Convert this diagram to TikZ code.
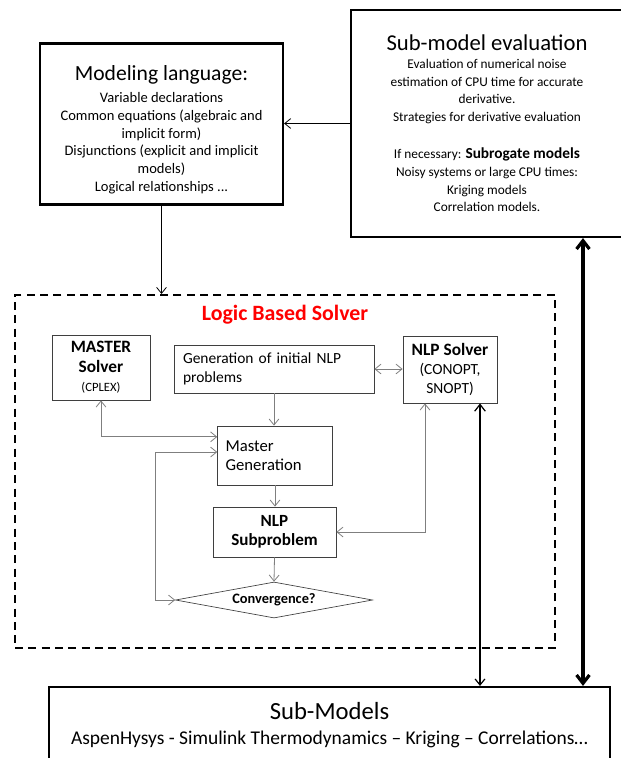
\documentclass[tikz,border=0pt]{standalone}
\usepackage{fontspec}
\setmainfont{Carlito}
\usepackage{xcolor}
\definecolor{cLine}{HTML}{7F7F7F}
\definecolor{cBox}{HTML}{3F3F3F}
\definecolor{cRed}{HTML}{FF0000}
\usetikzlibrary{positioning,arrows.meta,shapes.geometric,calc}
\tikzset{
  box-size/.style 2 args={minimum width=#1*0.75pt,minimum height=#2*0.75pt},
  big-box/.style={draw=black,line width=1.6pt,align=center,inner sep=0pt},
  node-box/.style={draw=cBox,line width=0.6pt,align=center,inner sep=0pt,
    font=\fontsize{12.5}{14.5}\selectfont},
  node-dec/.style={draw=cBox,line width=0.5pt,diamond,aspect=5.5,inner sep=0pt,
    font=\fontsize{10.8}{12}\selectfont\bfseries},
  frame-dash/.style={draw=black,line width=1.5pt,dash pattern=on 6pt off 4pt},
  arrow/.style={-{Straight Barb[length=1.6mm,width=2.6mm]},line width=0.6pt,draw=black},
  arrow-gray/.style={{Straight Barb[length=1.6mm,width=2.6mm]}-{Straight Barb[length=1.6mm,width=2.6mm]},
    line width=0.6pt,draw=cLine},
  arrow-gray-end/.style={-{Straight Barb[length=1.6mm,width=2.6mm]},line width=0.6pt,draw=cLine},
  arrow-dark/.style={{Straight Barb[length=1.8mm,width=2.8mm]}-{Straight Barb[length=1.6mm,width=2.6mm]},
    line width=0.9pt,draw=black},
  arrow-heavy/.style={{Straight Barb[length=2.2mm,width=3.4mm]}-{Straight Barb[length=2.2mm,width=3.4mm]},
    line width=2.4pt,draw=black},
}

\begin{document}
\begin{tikzpicture}[x=0.75pt,y=-0.75pt]
  \useasboundingbox (0,0) rectangle (621,758);
  % outer boxes
  \node[big-box,box-size={243}{161},font=\fontsize{10.9}{13.4}\selectfont] (mlang) at (161.5,124)
    {\rule{0pt}{20pt}{\fontsize{16.2}{18}\selectfont Modeling language:}\\[3pt]
     Variable declarations\\
     Common equations (algebraic and\\
     implicit form)\\
     Disjunctions (explicit and implicit\\
     models)\\
     Logical relationships ...};
  \node[big-box,box-size={272}{227},font=\fontsize{10}{13.2}\selectfont] (subeval) at (487,123.5)
    {{\fontsize{17}{19}\selectfont Sub-model evaluation}\\
     Evaluation of numerical noise\\
     estimation of CPU time for accurate\\
     derivative.\\
     Strategies for derivative evaluation\\[15pt]
     If necessary: {\fontsize{11.5}{13}\selectfont\bfseries Subrogate models}\\
     Noisy systems or large CPU times:\\
     Kriging models\\
     Correlation models.};
  \node[big-box,box-size={561}{76},font=\fontsize{14.6}{19}\selectfont] (submod) at (329.5,725)
    {{\fontsize{18.5}{19}\selectfont Sub-Models}\\
     AspenHysys - Simulink Thermodynamics -- Kriging -- Correlations\ldots};
  % logic based solver frame
  \node[frame-dash,box-size={540}{353}] (lbs) at (285,471.5) {};
  \node[text=cRed,font=\fontsize{16.4}{18}\selectfont\bfseries] (lbs-title) at (285,315) {Logic Based Solver};
  % inner blocks
  \node[node-box,box-size={98}{65}] (master) at (101,367.5)
    {{\fontsize{13}{16}\selectfont\bfseries MASTER}\\
     {\fontsize{13}{16}\selectfont\bfseries Solver}\\
     {\fontsize{9.5}{11}\selectfont (CPLEX)}};
  \node[node-box,box-size={200}{48},align=left,text width=136.5pt,inner xsep=6.75pt,
    font=\fontsize{11.6}{14.2}\selectfont] (gen) at (274,369)
    {Generation of initial NLP\\ problems};
  \node[node-box,box-size={94}{67}] (nlpsol) at (450,369.5)
    {{\fontsize{13}{16}\selectfont\bfseries NLP Solver}\\
     {\fontsize{11.6}{12.5}\selectfont (CONOPT,}\\
     {\fontsize{11.6}{12.5}\selectfont SNOPT)}};
  \node[node-box,box-size={114}{59},align=left,text width=74pt,inner xsep=6pt] (mgen) at (275,455.5)
    {Master\\ Generation};
  \node[node-box,box-size={123}{50},font=\fontsize{12.8}{14.5}\selectfont\bfseries] (nlpsub) at (274.5,532)
    {NLP\\ Subproblem};
  \node[node-dec,box-size={197}{36}] (conv) at (274,600) {Convergence?};
  % connector end points
  \coordinate (sol-out) at ($(nlpsol.south)+(30,0)$);
  \coordinate (sol-in) at ($(nlpsol.south)+(-25,0)$);
  \coordinate (eval-out) at ($(subeval.south)+(96,0)$);
  \coordinate (loop-x) at ($(conv.west)+(-20,0)$);
  % connectors
  \draw[arrow] (subeval.west) -- (subeval.west -| mlang.east);
  \draw[arrow] (mlang.south) -- (mlang.south |- lbs.north);
  \draw[arrow-gray] (gen.east) -- (gen.east -| nlpsol.west);
  \draw[arrow-gray-end] (gen.south) -- (gen.south |- mgen.north);
  \draw[arrow-gray] (master.south) |- ([yshift=14pt]mgen.west);
  \draw[arrow-gray] ([yshift=2.6pt]mgen.west) -| (loop-x) -- (conv.west);
  \draw[arrow-gray-end] (mgen.south) -- (mgen.south |- nlpsub.north);
  \draw[arrow-gray-end] (nlpsub.south) -- (conv.north);
  \draw[arrow-gray] (sol-in) |- (nlpsub.east);
  \draw[arrow-dark] (sol-out) -- (sol-out |- submod.north);
  \draw[arrow-heavy] (eval-out) -- (eval-out |- submod.north);
\end{tikzpicture}
\end{document}
